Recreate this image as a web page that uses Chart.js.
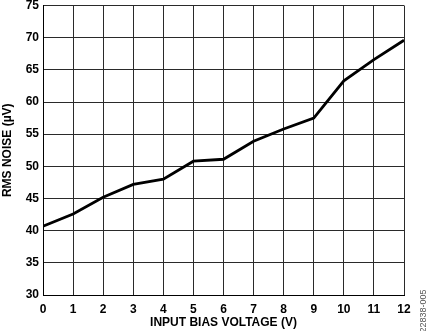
<!DOCTYPE html>
<html>
<head>
<meta charset="utf-8">
<script src="https://cdn.jsdelivr.net/npm/chart.js@4.4.1/dist/chart.umd.min.js"></script>
<style>
  html, body { margin: 0; padding: 0; background: #fff; }
  #wrap { width: 435px; height: 331px; }
</style>
</head>
<body>
<div id="wrap"><canvas id="noiseChart"></canvas></div>
<script>
// input bias voltage (V) and RMS noise (uV)
const biasVoltage = [0, 1, 2, 3, 4, 5, 6, 7, 8, 9, 10, 11, 12];
const rmsNoise = [40.7, 42.6, 45.2, 47.2, 48.0, 50.8, 51.1, 53.9, 55.8, 57.5, 63.3, 66.6, 69.6];
const yRange = [30, 75];
const xRange = [0, 12];
const figureId = '22838-005';

const tickFont = { family: '"Liberation Sans", Arial, sans-serif', size: 12, weight: 'bold' };

const figureIdPlugin = {
    id: 'figureId',
    afterDraw(chart) {
        const ctx = chart.ctx;
        ctx.save();
        ctx.translate(424, 311);
        ctx.rotate(-Math.PI / 2);
        ctx.font = '9px "Liberation Sans", Arial, sans-serif';
        ctx.fillStyle = '#555';
        ctx.textAlign = 'center';
        ctx.textBaseline = 'middle';
        ctx.fillText(figureId, 0, 0);
        ctx.restore();
    }
};

const ctxNoise = document.getElementById('noiseChart').getContext('2d');
const noiseChart = new Chart(ctxNoise, {
    type: 'line',
    data: {
        datasets: [{
            data: biasVoltage.map((v, i) => ({ x: v, y: rmsNoise[i] })),
            borderColor: '#000',
            borderWidth: 2.8,
            pointRadius: 0,
            tension: 0,
            fill: false
        }]
    },
    options: {
        responsive: true,
        maintainAspectRatio: false,
        animation: false,
        layout: {
            padding: { top: 5.5, right: 31, bottom: 1, left: 0 }
        },
        plugins: {
            legend: { display: false },
            tooltip: { enabled: false }
        },
        scales: {
            x: {
                type: 'linear',
                min: xRange[0],
                max: xRange[1],
                ticks: {
                    stepSize: 1,
                    color: '#000',
                    font: tickFont,
                    padding: 7
                },
                grid: {
                    color: '#2a2a2a',
                    lineWidth: 1,
                    drawTicks: false
                },
                border: { color: '#000', width: 1 },
                title: {
                    display: true,
                    text: 'INPUT BIAS VOLTAGE (V)',
                    color: '#000',
                    font: tickFont,
                    padding: { top: 1, bottom: 0 }
                },
                afterFit(scale) {
                    scale.height = 35;
                    scale.paddingLeft = 0;
                    scale.paddingRight = 0;
                }
            },
            y: {
                min: yRange[0],
                max: yRange[1],
                ticks: {
                    stepSize: 5,
                    color: '#000',
                    font: tickFont,
                    padding: 4
                },
                grid: {
                    color: '#2a2a2a',
                    lineWidth: 1,
                    drawTicks: false
                },
                border: { color: '#000', width: 1 },
                title: {
                    display: true,
                    text: 'RMS NOISE (µV)',
                    color: '#000',
                    font: tickFont,
                    padding: { top: 0, bottom: 0 }
                },
                afterFit(scale) {
                    scale.width = 43;
                    scale.paddingTop = 0;
                    scale.paddingBottom = 0;
                }
            }
        }
    },
    plugins: [figureIdPlugin]
});
</script>
</body>
</html>
